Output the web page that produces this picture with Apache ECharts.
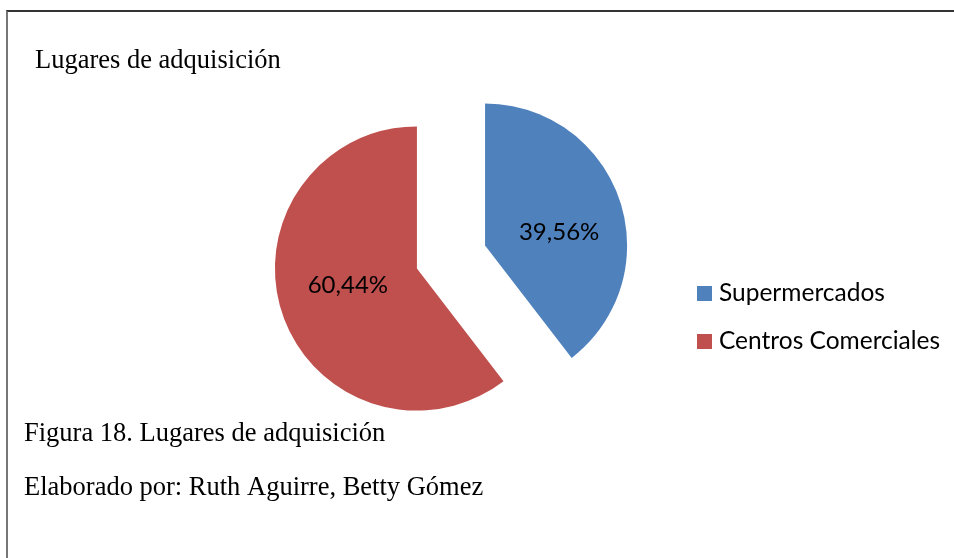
<!DOCTYPE html>
<html>
<head>
<meta charset="utf-8">
<script src="https://cdn.jsdelivr.net/npm/echarts@6/dist/echarts.min.js"></script>
<style>
  html, body { margin: 0; padding: 0; background: #fff; }
  #chart { width: 954px; height: 558px; position: relative; }
  .frame {
    position: absolute; left: 6px; top: 10px; right: -2px; bottom: -2px;
    border-top: 2px solid #333; border-left: 2px solid #777;
    pointer-events: none;
  }
</style>
</head>
<body>
<div id="chart"></div>
<div class="frame"></div>
<script>
// datos del gráfico
const categories = ['Supermercados', 'Centros Comerciales']
const values = [39.56, 60.44]
const colors = ['#4f81bd', '#c0504d']

const chart = echarts.init(document.getElementById('chart'))

const serif = { fontFamily: 'Liberation Serif', fontSize: 26.5, fontWeight: 'normal', color: '#000' }

const option = {
  animation: false,
  title: [
    { text: 'Lugares de adquisición', left: 30, top: 43, textStyle: serif },
    { text: 'Figura 18. Lugares de adquisición', left: 19, top: 416, textStyle: serif },
    { text: 'Elaborado por: Ruth Aguirre, Betty Gómez', left: 19, top: 470, textStyle: serif },
  ],
  legend: {
    orient: 'vertical',
    left: 692, top: 276,
    itemWidth: 15, itemHeight: 15,
    itemGap: 23,
    icon: 'rect',
    selectedMode: false,
    textStyle: { fontFamily: 'Lato', fontSize: 24.5, color: '#000', padding: [0, 0, 0, 2] },
    data: categories,
  },
  series: [
    {
      type: 'pie',
      center: [451, 257],
      radius: 142,
      startAngle: 90,
      clockwise: true,
      selectedMode: 'multiple',
      selectedOffset: 36,
      emphasis: { disabled: true },
      label: {
        position: 'inside',
        // un espaciador desplaza un poco el texto, como en el original
        formatter: (p) => {
          const txt = '{v|' + p.value.toFixed(2).replace('.', ',') + '%}'
          return p.dataIndex === 0 ? '{a|}\n' + txt : txt + '\n{b|}'
        },
        rich: {
          v: { fontFamily: 'Lato', fontSize: 24, lineHeight: 26, color: '#000' },
          a: { height: 22, lineHeight: 22 },
          b: { height: 14, lineHeight: 14 },
        },
      },
      labelLine: { show: false },
      data: categories.map((name, i) => ({
        name,
        value: values[i],
        selected: true,
        itemStyle: { color: colors[i] },
        label: { padding: i === 0 ? [0, 0, 0, 8] : [0, 0, 0, 2] },
      })),
    },
  ],
}

chart.setOption(option)
</script>
</body>
</html>
